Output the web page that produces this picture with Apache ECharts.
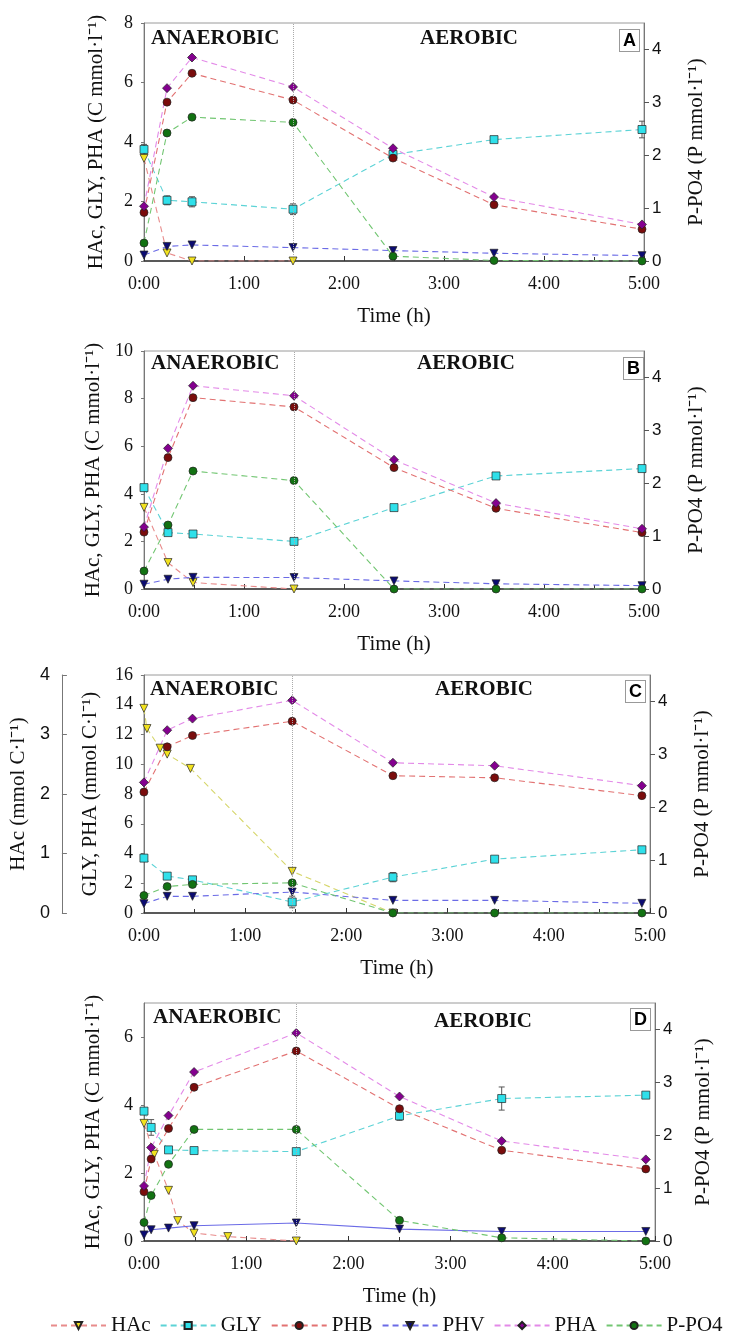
<!DOCTYPE html>
<html>
<head>
<meta charset="utf-8">
<script src="https://cdn.jsdelivr.net/npm/echarts@6/dist/echarts.min.js"></script>
<style>
html, body { margin: 0; padding: 0; background: #fff; }
#chart { width: 736px; height: 1338px; }
</style>
</head>
<body>
<div id="chart"></div>
<script>
// sample times in hours, one list per panel
const timeA = [0, 0.23, 0.48, 1.49, 2.49, 3.5, 4.98];
const hacA = [3.45, 0.27, 0, 0];
const glyA = [3.75, 2.04, 1.99, 1.74, 3.58, 4.08, 4.42];
const glyErrA = [0.17, 0.15, 0.17, 0.18, 0, 0.08, 0.28];
const phbA = [1.63, 5.34, 6.31, 5.41, 3.46, 1.89, 1.07];
const phvA = [0.2, 0.49, 0.54, 0.45, 0.35, 0.26, 0.18];
const phaA = [1.84, 5.81, 6.84, 5.85, 3.79, 2.15, 1.23];
const po4A = [0.34, 2.42, 2.72, 2.62, 0.09, 0.01, 0.0];

const timeB = [0, 0.24, 0.49, 1.5, 2.5, 3.52, 4.98];
const hacB = [3.43, 1.11, 0.27, 0];
const glyB = [4.26, 2.37, 2.31, 2.0, 3.42, 4.75, 5.06];
const glyErrB = [0, 0.08, 0, 0, 0, 0.08, 0];
const phbB = [2.39, 5.52, 8.04, 7.65, 5.1, 3.39, 2.37];
const phvB = [0.2, 0.41, 0.49, 0.48, 0.34, 0.22, 0.14];
const phaB = [2.6, 5.91, 8.54, 8.12, 5.43, 3.61, 2.53];
const po4B = [0.34, 1.21, 2.23, 2.05, 0, 0, 0];

const timeC = [0, 0.23, 0.48, 1.465, 2.46, 3.465, 4.92];
const hacTimeC = [0, 0.03, 0.16, 0.23, 0.46, 1.465, 2.46];
const hacC = [3.44, 3.1, 2.77, 2.67, 2.43, 0.7, 0];
const glyC = [3.69, 2.48, 2.23, 0.74, 2.41, 3.62, 4.25];
const glyErrC = [0, 0, 0, 0.39, 0.31, 0, 0];
const phbC = [8.13, 11.17, 11.93, 12.89, 9.23, 9.09, 7.89];
const phvC = [0.63, 1.12, 1.12, 1.41, 0.85, 0.85, 0.65];
const phaC = [8.78, 12.29, 13.07, 14.3, 10.1, 9.9, 8.56];
const po4C = [0.33, 0.5, 0.54, 0.57, 0, 0, 0];

const timeD = [0, 0.07, 0.24, 0.49, 1.49, 2.5, 3.5, 4.91];
const hacTimeD = [0, 0.1, 0.24, 0.33, 0.49, 0.82, 1.49];
const hacD = [3.46, 2.55, 1.49, 0.6, 0.23, 0.13, 0];
const glyD = [3.82, 3.34, 2.68, 2.66, 2.63, 3.68, 4.19, 4.29];
const glyErrD = [0, 0.23, 0, 0, 0, 0.13, 0.34, 0];
const phbD = [1.45, 2.41, 3.31, 4.52, 5.59, 3.89, 2.67, 2.12];
const phvD = [0.18, 0.33, 0.38, 0.45, 0.53, 0.35, 0.28, 0.28];
const phaD = [1.62, 2.75, 3.69, 4.97, 6.12, 4.25, 2.94, 2.4];
const po4D = [0.35, 0.86, 1.45, 2.11, 2.11, 0.39, 0.06, 0.0];

const legendNames = ['HAc', 'GLY', 'PHB', 'PHV', 'PHA', 'P-PO4'];

const serif = 'Liberation Serif, Times New Roman, serif';
const sans = 'Liberation Sans, Arial, sans-serif';

const COL = {
    hac: { line: '#e88c8c', fill: '#f2e21e' },
    gly: { line: '#5cd3d6', fill: '#2fe0ea' },
    phb: { line: '#e27272', fill: '#7a0c0c' },
    phv: { line: '#6b6be6', fill: '#0c0c72' },
    pha: { line: '#e38ae8', fill: '#84008f' },
    po4: { line: '#72c672', fill: '#127212' }
};

const grid = [], xAxis = [], yAxis = [], series = [], graphic = [];

function pairs(t, v) {
    return v.map((y, i) => [t[i], y]);
}

function lineSeries(name, data, xi, yi, col, symbol, extra) {
    return Object.assign({
        name: name,
        type: 'line',
        data: data,
        xAxisIndex: xi,
        yAxisIndex: yi,
        symbol: symbol,
        symbolSize: 8,
        showAllSymbol: true,
        lineStyle: { color: col.line, width: 1.1, type: [6, 4] },
        itemStyle: { color: col.fill, borderColor: '#222', borderWidth: 0.7 },
        z: 3
    }, extra || {});
}

function errSeries(t, v, e, xi, yi) {
    const data = v.map((y, i) => [t[i], y, e[i]]).filter(d => d[2] > 0);
    return {
        type: 'custom',
        xAxisIndex: xi,
        yAxisIndex: yi,
        silent: true,
        z: 2,
        encode: { x: 0, y: 1 },
        data: data,
        renderItem: function (params, api) {
            const x = api.value(0), y = api.value(1), e = api.value(2);
            const a = api.coord([x, y + e]);
            const b = api.coord([x, y - e]);
            const st = { stroke: '#555', lineWidth: 1 };
            return {
                type: 'group',
                children: [
                    { type: 'line', shape: { x1: a[0], y1: a[1], x2: b[0], y2: b[1] }, style: st },
                    { type: 'line', shape: { x1: a[0] - 3, y1: a[1], x2: a[0] + 3, y2: a[1] }, style: st },
                    { type: 'line', shape: { x1: b[0] - 3, y1: b[1], x2: b[0] + 3, y2: b[1] }, style: st }
                ]
            };
        }
    };
}

function addPanel(p) {
    const gi = grid.length;
    grid.push({
        left: p.left, right: p.right, top: p.top, height: 238,
        show: true, borderColor: '#9a9a9a', borderWidth: 1
    });
    xAxis.push({
        gridIndex: gi, type: 'value', min: 0, max: 5, interval: 1,
        name: 'Time (h)', nameLocation: 'middle', nameGap: 45,
        nameTextStyle: { fontFamily: serif, fontSize: 21, color: '#111' },
        axisLine: { onZero: false, lineStyle: { color: '#333', width: 1.5 } },
        axisTick: { inside: true, length: 5, lineStyle: { color: '#333' } },
        minorTick: { show: true, splitNumber: 2, length: 4, lineStyle: { color: '#333' } },
        splitLine: { show: false },
        axisLabel: { fontFamily: serif, fontSize: 18, color: '#111', margin: 14,
            formatter: v => v + ':00' }
    });
    const yl = yAxis.length;
    yAxis.push({
        gridIndex: gi, type: 'value', position: 'left', min: 0, max: p.leftMax, interval: 2,
        name: p.leftName, nameLocation: 'middle', nameGap: p.gapL, nameRotate: 90,
        nameTextStyle: { fontFamily: serif, fontSize: 21, color: '#111' },
        axisLine: { show: true, lineStyle: { color: '#777' } },
        axisTick: { show: true, length: 3, lineStyle: { color: '#777' } },
        splitLine: { show: false },
        axisLabel: { fontFamily: serif, fontSize: 18, color: '#111', margin: 11, showMaxLabel: p.leftMax % 2 === 0 }
    });
    const yr = yAxis.length;
    yAxis.push({
        gridIndex: gi, type: 'value', position: 'right', min: 0, max: 4.5, interval: 1,
        name: 'P-PO4 (P mmol·l⁻¹)', nameLocation: 'middle', nameGap: p.gapR, nameRotate: 90,
        nameTextStyle: { fontFamily: serif, fontSize: 21, color: '#111' },
        axisLine: { show: true, lineStyle: { color: '#777' } },
        axisTick: { show: true, length: 5, lineStyle: { color: '#555' } },
        splitLine: { show: false },
        axisLabel: { fontFamily: sans, fontSize: 17, color: '#111', margin: 8, showMaxLabel: false }
    });
    let yh = yl;
    if (p.hacAxis) {
        yh = yAxis.length;
        yAxis.push({
            gridIndex: gi, type: 'value', position: 'left', offset: 82, min: 0, max: 4, interval: 1,
            name: 'HAc (mmol C·l⁻¹)', nameLocation: 'middle', nameGap: 30, nameRotate: 90,
            nameTextStyle: { fontFamily: serif, fontSize: 21, color: '#111' },
            axisLine: { show: true, lineStyle: { color: '#777' } },
            axisTick: { show: true, inside: true, length: 5, lineStyle: { color: '#777' } },
            splitLine: { show: false },
            axisLabel: { fontFamily: sans, fontSize: 18, color: '#111', margin: 12 }
        });
    }

    const t = p.time;
    const glyS = lineSeries('GLY', pairs(t, p.gly), gi, yl, COL.gly, 'rect', {
        markLine: {
            silent: true, symbol: 'none', label: { show: false },
            lineStyle: { color: '#aaa', type: 'dotted', width: 1 },
            data: [{ xAxis: t[p.switchIdx] }]
        }
    });
    series.push(
        lineSeries('HAc', pairs(p.hacTime || t, p.hac), gi, yh,
            { line: p.hacLine || COL.hac.line, fill: COL.hac.fill }, 'triangle', { symbolRotate: 180 }),
        glyS,
        lineSeries('PHB', pairs(t, p.phb), gi, yl, COL.phb, 'circle'),
        lineSeries('PHV', pairs(t, p.phv), gi, yl, COL.phv, 'triangle', {
            symbolRotate: 180,
            lineStyle: { color: COL.phv.line, width: 1.1, type: p.phvSolid ? 'solid' : [6, 4] }
        }),
        lineSeries('PHA', pairs(t, p.pha), gi, yl, COL.pha, 'diamond', { symbolSize: 9 }),
        lineSeries('P-PO4', pairs(t, p.po4), gi, yr, COL.po4, 'circle'),
        errSeries(t, p.gly, p.glyErr, gi, yl)
    );

    graphic.push(
        { type: 'text', left: p.ana[0], top: p.ana[1],
          style: { text: 'ANAEROBIC', font: 'bold 21px ' + serif, fill: '#111' } },
        { type: 'text', left: p.aer[0], top: p.aer[1],
          style: { text: 'AEROBIC', font: 'bold 21px ' + serif, fill: '#111' } },
        { type: 'text', left: p.box[0], top: p.box[1],
          style: { text: p.label, font: 'bold 18px ' + sans, fill: '#000',
                   backgroundColor: '#fff', borderColor: '#999', borderWidth: 1, padding: [2, 3, 1, 3] } }
    );
}

addPanel({
    left: 144, right: 92, top: 23, leftMax: 8, gapL: 37, gapR: 42,
    leftName: 'HAc, GLY, PHA (C mmol·l⁻¹)', label: 'A', switchIdx: 3,
    time: timeA, hac: hacA, gly: glyA, glyErr: glyErrA, phb: phbA, phv: phvA, pha: phaA, po4: po4A,
    ana: [151, 28], aer: [420, 28], box: [619, 29]
});
addPanel({
    left: 144, right: 92, top: 351, leftMax: 10, gapL: 37, gapR: 42,
    leftName: 'HAc, GLY, PHA (C mmol·l⁻¹)', label: 'B', switchIdx: 3,
    time: timeB, hac: hacB, gly: glyB, glyErr: glyErrB, phb: phbB, phv: phvB, pha: phaB, po4: po4B,
    ana: [151, 353], aer: [417, 353], box: [623, 357]
});
addPanel({
    left: 143, right: 86, top: 675, leftMax: 16, gapL: 43, gapR: 42, hacAxis: true,
    leftName: 'GLY, PHA (mmol C·l⁻¹)', label: 'C', switchIdx: 3, hacLine: '#d6d66a',
    time: timeC, hacTime: hacTimeC, hac: hacC, gly: glyC, glyErr: glyErrC, phb: phbC, phv: phvC, pha: phaC, po4: po4C,
    ana: [150, 679], aer: [435, 679], box: [625, 680]
});
addPanel({
    left: 144, right: 81, top: 1003, leftMax: 7, gapL: 40, gapR: 38, phvSolid: true,
    leftName: 'HAc, GLY, PHA (C mmol·l⁻¹)', label: 'D', switchIdx: 4,
    time: timeD, hacTime: hacTimeD, hac: hacD, gly: glyD, glyErr: glyErrD, phb: phbD, phv: phvD, pha: phaD, po4: po4D,
    ana: [153, 1007], aer: [434, 1011], box: [630, 1008]
});

const myChart = echarts.init(document.getElementById('chart'));
myChart.setOption({
    animation: false,
    backgroundColor: '#fff',
    legend: {
        data: legendNames,
        left: 50,
        right: 0,
        top: 1315,
        padding: 0,
        itemWidth: 55,
        itemHeight: 9,
        itemGap: 9,
        textStyle: { fontFamily: serif, fontSize: 21, color: '#111' }
    },
    grid: grid,
    xAxis: xAxis,
    yAxis: yAxis,
    series: series,
    graphic: graphic
});
</script>
</body>
</html>
